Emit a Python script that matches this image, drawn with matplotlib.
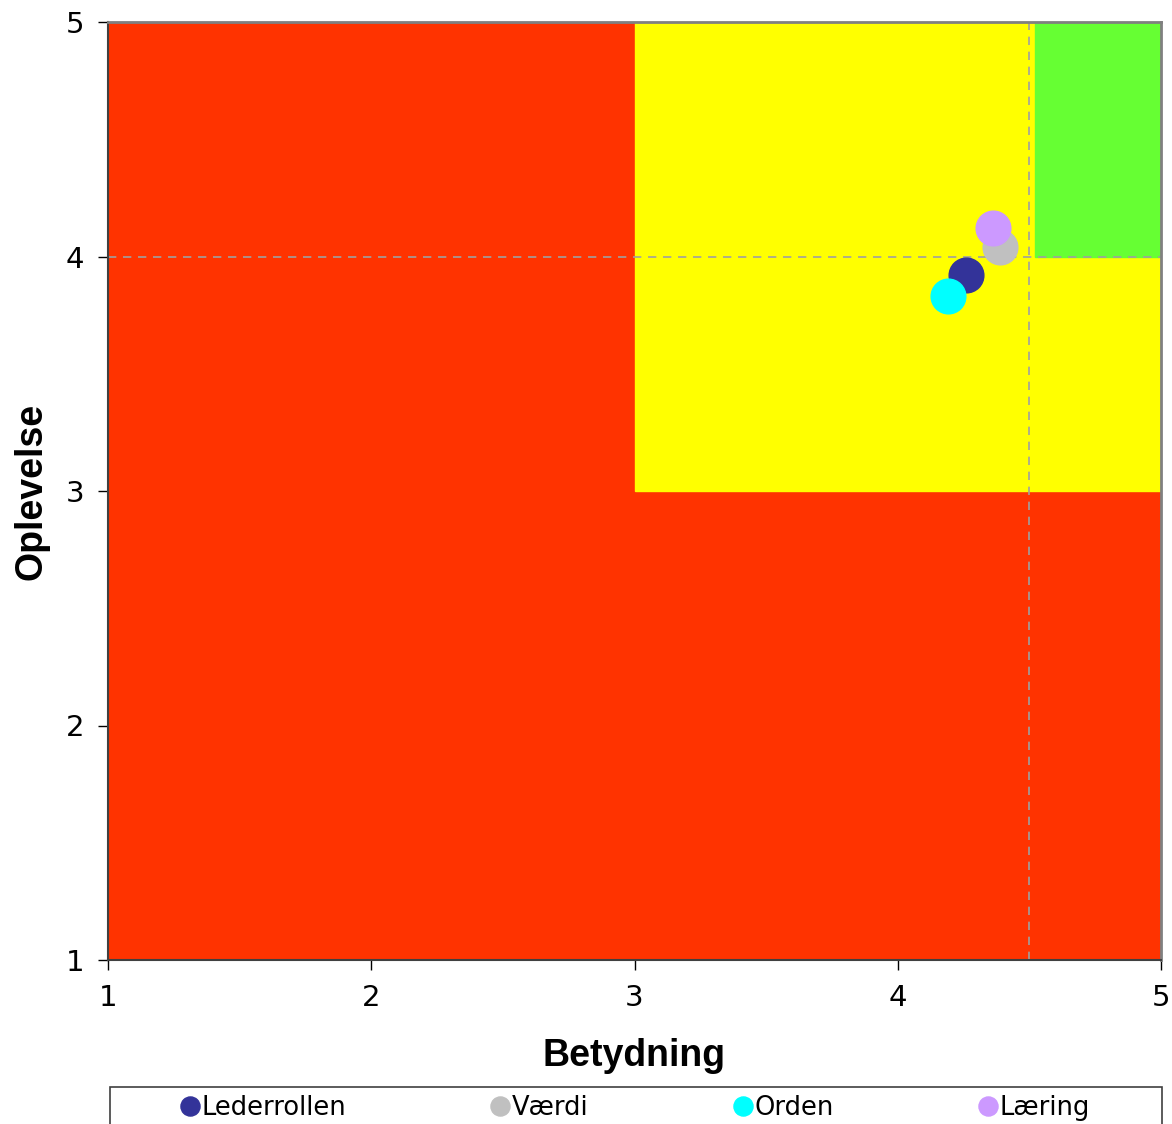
import matplotlib
matplotlib.use('Agg')
import matplotlib.pyplot as plt
from matplotlib.patches import Rectangle

# data
names = ['Lederrollen', 'Værdi', 'Orden', 'Læring']
betydning = [4.26, 4.39, 4.19, 4.36]
oplevelse = [3.92, 4.04, 3.83, 4.12]
colors = ['#333399', '#C0C0C0', '#00FFFF', '#CC99FF']

fig = plt.figure(figsize=(11.72, 11.24), dpi=100)
ax = fig.add_axes([108/1172, 1 - 960/1124, 1053/1172, 938/1124])

# background zones
ax.set_facecolor('#FF3300')
ax.add_patch(Rectangle((3, 3), 2, 2, color='#FFFF00', zorder=0))
ax.add_patch(Rectangle((4.52, 4), 0.48, 1, color='#66FF33', zorder=0))

# dashed reference lines
ax.axvline(4.5, color='#A0A0A0', ls=(0, (5, 4)), lw=1.2, zorder=1)
ax.axhline(4.0, color='#A0A0A0', ls=(0, (5, 4)), lw=1.2, zorder=1)

for x, y, c, n in zip(betydning, oplevelse, colors, names):
    ax.plot(x, y, 'o', ms=25, color=c, mec=c, label=n, zorder=3)

ax.set_xlim(1, 5)
ax.set_ylim(1, 5)
ax.set_xticks([1, 2, 3, 4, 5])
ax.set_yticks([1, 2, 3, 4, 5])
ax.tick_params(labelsize=21, length=7, width=1, direction='out', pad=10)
for s in ['top', 'right']:
    ax.spines[s].set_color('#808080')
    ax.spines[s].set_linewidth(2)
for s in ['left', 'bottom']:
    ax.spines[s].set_color('#404040')
    ax.spines[s].set_linewidth(1.5)

ax.set_xlabel('Betydning', fontsize=27, fontweight='bold', family='Liberation Sans', labelpad=19)
ax.set_ylabel('Oplevelse', fontsize=27, fontweight='bold', family='Liberation Sans', labelpad=12)

# legend box, cut off by the bottom edge like in the original
fig.patches.append(Rectangle((110/1172, -0.02), 1052/1172, 0.02 + 1 - 1087/1124,
                             transform=fig.transFigure, fill=False,
                             edgecolor='#404040', lw=1.2))
leg = fig.legend(loc='center', bbox_to_anchor=(636/1172, 1 - 1108/1124),
                 ncol=4, fontsize=18.5, markerscale=0.55, columnspacing=5.7,
                 handlelength=0.6, handletextpad=0.15, borderpad=0,
                 frameon=False)

fig.savefig('out.png', dpi=100)
